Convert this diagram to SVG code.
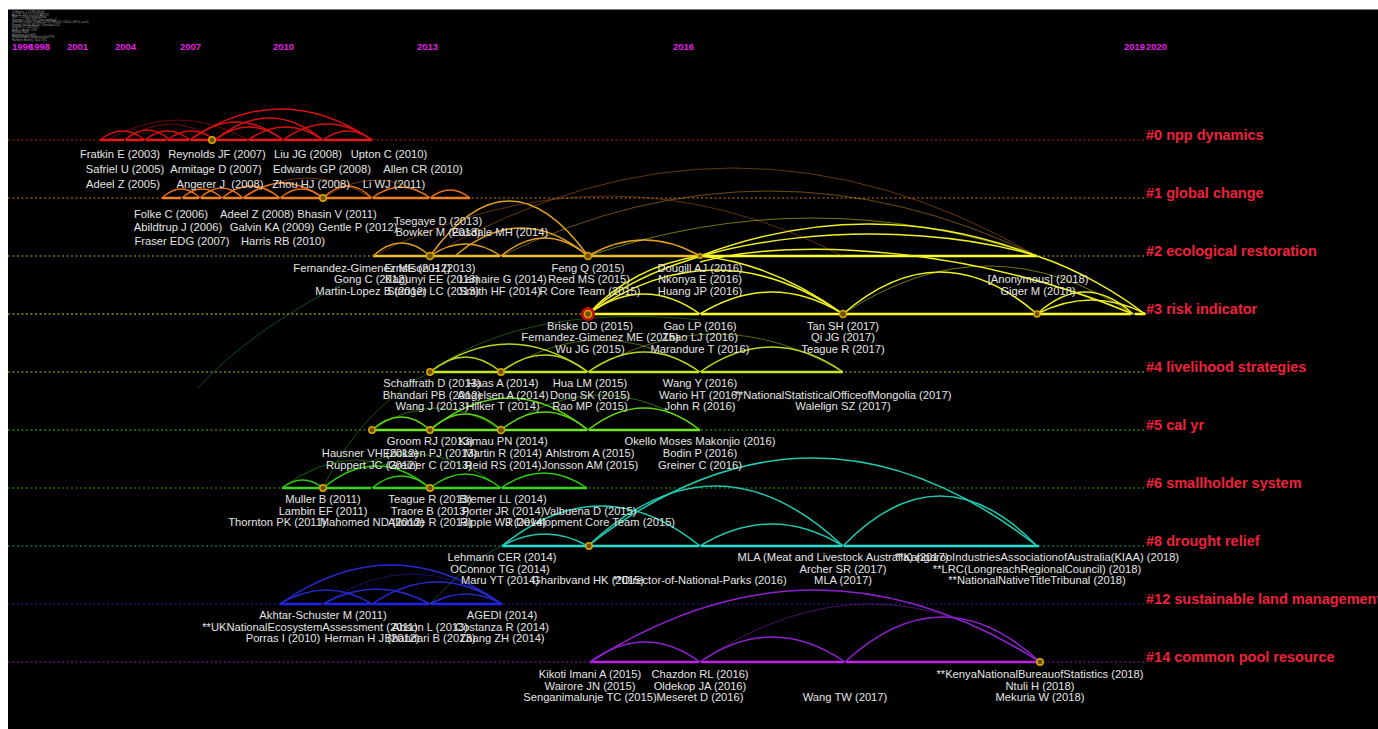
<svg xmlns="http://www.w3.org/2000/svg" width="1378" height="729" viewBox="0 0 1378 729">
<style>
.lb{font-family:"Liberation Sans",Arial,sans-serif;font-size:11.2px;fill:#e4e4e4;text-anchor:middle;white-space:pre}
.cl{font-family:"Liberation Sans",Arial,sans-serif;font-size:14.5px;font-weight:bold;fill:#f0203c}
.yr{font-family:"Liberation Sans",Arial,sans-serif;font-size:9.5px;font-weight:bold;fill:#e020e0}
.hd{font-family:"Liberation Sans",Arial,sans-serif;font-size:2.6px;fill:#a0a0a0}
.dot{stroke-width:1;stroke-dasharray:2 2.5;fill:none}
.sol{stroke-width:2.6;fill:none}
.a{fill:none;stroke-width:1.5}
.t{fill:none;stroke-width:0.9;opacity:0.55}
.nd{fill:#705000;stroke:#d8a800;stroke-width:1.5}
</style>
<rect x="0" y="0" width="1378" height="729" fill="#ffffff"/>
<rect x="8" y="9.5" width="1370" height="720" fill="#000000"/>
<g id="header">
<text class="hd" x="12" y="13">CiteSpace, v. 5.6.R3 (64-bit)</text>
<text class="hd" x="12" y="15.5">April 20, 2020 10:15:32 AM CST</text>
<text class="hd" x="12" y="18">WoS: C:\Users\citespace\data</text>
<text class="hd" x="12" y="20.5">Timespan: 1996-2020 (Slice Length=1)</text>
<text class="hd" x="12" y="23">Selection Criteria: g-index (k=25), LRF=3.0, L/N=10, LBY=5, e=1.0</text>
<text class="hd" x="12" y="25.5">Network: N=516, E=1467 (Density=0.011)</text>
<text class="hd" x="12" y="28">Largest CC: 418 (81%)</text>
<text class="hd" x="12" y="30.5">Nodes Labeled: 1.0%</text>
<text class="hd" x="12" y="33">Pruning: None</text>
<text class="hd" x="12" y="35.5">Modularity Q=0.6925</text>
<text class="hd" x="12" y="38">Weighted Mean Silhouette S=0.8776</text>
<text class="hd" x="12" y="40.5">Harmonic Mean(Q, S)=0.7741</text>
</g>
<g id="years">
<text class="yr" x="12" y="49.5">1996</text>
<text class="yr" x="29" y="49.5">1998</text>
<text class="yr" x="67" y="49.5">2001</text>
<text class="yr" x="115" y="49.5">2004</text>
<text class="yr" x="180" y="49.5">2007</text>
<text class="yr" x="273" y="49.5">2010</text>
<text class="yr" x="417" y="49.5">2013</text>
<text class="yr" x="673" y="49.5">2016</text>
<text class="yr" x="1124" y="49.5">2019</text>
<text class="yr" x="1146" y="49.5">2020</text>
</g>
<g id="timelines">
<g id="line-0">
<line class="dot" x1="8" y1="140" x2="1145" y2="140" stroke="#c01818"/>
<path class="sol" stroke="#e81818" d="M100 140H124M126 140H144M146 140H166M168 140H189M191 140H214M216 140H247M249 140H282M284 140H322M324 140H372"/>
</g>
<g id="line-1">
<line class="dot" x1="8" y1="198" x2="1145" y2="198" stroke="#d07020"/>
<path class="sol" stroke="#f08020" d="M162 198H181M183 198H199M201 198H221M223 198H242M244 198H279M281 198H322M324 198H371M373 198H429M431 198H470"/>
</g>
<g id="line-2">
<line class="dot" x1="8" y1="256" x2="1145" y2="256" stroke="#c0a020"/>
<path class="sol" stroke="#e8c020" d="M373 256H429M431 256H500M502 256H587M589 256H699"/>
<path class="sol" stroke="#ffff30" d="M701 256H1037"/>
</g>
<g id="line-3">
<line class="dot" x1="8" y1="314" x2="1145" y2="314" stroke="#d8d820"/>
<path class="sol" stroke="#ffff20" d="M588 314H699M701 314H842M844 314H1036M1038 314H1131M1135 314H1145"/>
</g>
<g id="line-4">
<line class="dot" x1="8" y1="372" x2="1145" y2="372" stroke="#a8c818"/>
<path class="sol" stroke="#c8e818" d="M430 372H500M502 372H587M589 372H699M701 372H843"/>
</g>
<g id="line-5">
<line class="dot" x1="8" y1="430" x2="1145" y2="430" stroke="#58b010"/>
<path class="sol" stroke="#70e818" d="M372 430H429M431 430H500M502 430H587M589 430H700"/>
</g>
<g id="line-6">
<line class="dot" x1="8" y1="488" x2="1145" y2="488" stroke="#30a010"/>
<path class="sol" stroke="#38d818" d="M282 488H322M324 488H371M373 488H429M431 488H500M502 488H587"/>
</g>
<g id="line-8">
<line class="dot" x1="8" y1="546" x2="1145" y2="546" stroke="#18a088"/>
<path class="sol" stroke="#20e0d0" d="M502 546H587M589 546H699M701 546H842M844 546H1039"/>
</g>
<g id="line-12">
<line class="dot" x1="8" y1="604" x2="1145" y2="604" stroke="#2020b0"/>
<path class="sol" stroke="#2020f0" d="M280 604H322M324 604H371M373 604H429M431 604H502"/>
</g>
<g id="line-14">
<line class="dot" x1="8" y1="662" x2="1145" y2="662" stroke="#8818b0"/>
<path class="sol" stroke="#c020e8" d="M590 662H699M701 662H844M846 662H1040"/>
</g>
</g>
<g id="connectors">
<g stroke="#d81010">
<path class="a" d="M100 140 Q122.5 122 145 140"/>
<path class="a" d="M125 140 Q147.5 120 170 140"/>
<path class="a" d="M145 140 Q167.5 122 190 140"/>
<path class="a" d="M167 140 Q191 122 215 140"/>
<path class="a" d="M190 140 Q236.5 104 283 140"/>
<path class="a" d="M215 140 Q249 114 283 140"/>
<path class="a" d="M215 140 Q269 96 323 140"/>
<path class="a" d="M248 140 Q285.5 114 323 140"/>
<path class="a" d="M283 140 Q327.5 108 372 140"/>
<path class="a" d="M190 140 Q281 78 372 140"/>
<path class="t" d="M107 140 Q177.5 100 248 140"/>
<path class="a" d="M323 140 Q347.5 122 372 140"/>
<path class="t" d="M125 140 Q170 108 215 140"/>
</g>
<g stroke="#e87018">
<path class="a" d="M162 198 Q181 180 200 198"/>
<path class="a" d="M182 198 Q202 180 222 198"/>
<path class="a" d="M200 198 Q221.5 178 243 198"/>
<path class="a" d="M222 198 Q251 174 280 198"/>
<path class="a" d="M243 198 Q283 168 323 198"/>
<path class="a" d="M280 198 Q301.5 180 323 198"/>
<path class="a" d="M323 198 Q347.5 174 372 198"/>
<path class="a" d="M372 198 Q401 176 430 198"/>
<path class="a" d="M430 198 Q450 182 470 198"/>
<path class="t" d="M243 198 Q307.5 158 372 198"/>
<path class="t" d="M323 198 Q376.5 162 430 198"/>
</g>
<g stroke="#e0a020">
<path class="a" d="M373 256 Q401.5 230 430 256"/>
<path class="a" d="M430 256 Q509 146 588 256"/>
<path class="a" d="M455 256 Q521.5 200 588 256"/>
<path class="a" d="M501 256 Q544.5 220 588 256"/>
<path class="a" d="M588 256 Q644 224 700 256"/>
<path class="a" d="M430 256 Q465.5 232 501 256"/>
<path class="t" d="M430 256 Q733.5 80 1037 256" stroke="#d07018"/>
<path class="t" d="M501 256 Q769 126 1037 256"/>
<path class="t" d="M373 256 Q608 136 843 256" stroke="#c06018"/>
</g>
<g stroke="#f0f020">
<path class="a" stroke-width="2" d="M700 256 Q868.5 192 1037 256"/>
<path class="t" d="M588 256 Q812.5 180 1037 256"/>
<path class="a" d="M588 314 C620 280 660 262 700 256"/>
<path class="a" d="M588 314 C680 230 900 215 1037 256"/>
<path class="a" d="M700 256 C760 262 810 290 843 314"/>
<path class="a" d="M1037 256 C1080 270 1120 295 1145 314"/>
<path class="a" d="M700 262 C800 235 980 250 1133 314"/>
<path class="a" d="M588 314 Q644 274 700 314"/>
<path class="a" d="M588 314 Q715.5 226 843 314"/>
<path class="a" d="M700 314 Q771.5 270 843 314"/>
<path class="a" d="M843 314 Q940 230 1037 314"/>
<path class="a" d="M1037 314 Q1085 270 1133 314"/>
<path class="a" d="M1037 314 Q1091.5 286 1146 314"/>
<path class="t" d="M843 314 Q988 218 1133 314"/>
</g>
<g stroke="#b8d818">
<path class="a" d="M430 372 Q465.5 342 501 372"/>
<path class="a" d="M501 372 Q544.5 338 588 372"/>
<path class="a" d="M588 372 Q644 332 700 372"/>
<path class="a" d="M700 372 Q771.5 322 843 372"/>
<path class="a" d="M430 372 Q509 316 588 372"/>
<path class="t" d="M501 372 Q600.5 308 700 372"/>
<path class="t" d="M588 372 Q715.5 296 843 372"/>
</g>
<g stroke="#60d810">
<path class="a" d="M372 430 Q401 404 430 430"/>
<path class="a" d="M430 430 Q465.5 398 501 430"/>
<path class="a" d="M501 430 Q544.5 394 588 430"/>
<path class="a" d="M588 430 Q644 386 700 430"/>
<path class="a" d="M430 430 Q509 366 588 430"/>
<path class="t" d="M372 430 Q436.5 386 501 430"/>
<path class="t" d="M501 430 Q600.5 360 700 430"/>
</g>
<g stroke="#30c810">
<path class="a" d="M282 488 Q302.5 472 323 488"/>
<path class="a" d="M323 488 Q376.5 444 430 488"/>
<path class="a" d="M372 488 Q401 464 430 488"/>
<path class="a" d="M430 488 Q465.5 460 501 488"/>
<path class="a" d="M501 488 Q544 458 587 488"/>
<path class="t" d="M282 488 Q356 432 430 488"/>
<path class="t" d="M323 488 Q412 420 501 488"/>
</g>
<g stroke="#20c8b0">
<path class="a" d="M502 546 Q545 522 588 546"/>
<path class="a" d="M502 546 Q601 466 700 546"/>
<path class="a" d="M588 546 Q715.5 426 843 546"/>
<path class="a" d="M588 546 Q812.5 370 1037 546"/>
<path class="a" d="M700 546 Q771.5 502 843 546"/>
<path class="a" d="M843 546 Q940 446 1037 546"/>
</g>
<g stroke="#2828d0">
<path class="a" d="M280 604 Q326 576 372 604"/>
<path class="a" d="M323 604 Q376.5 574 430 604"/>
<path class="a" d="M372 604 Q437 560 502 604"/>
<path class="a" d="M280 604 Q391 526 502 604"/>
<path class="t" d="M323 604 Q412.5 544 502 604"/>
<path class="a" d="M430 604 Q466 584 502 604"/>
</g>
<g stroke="#9020d0">
<path class="a" d="M590 662 Q645 622 700 662"/>
<path class="a" d="M700 662 Q772.5 612 845 662"/>
<path class="a" d="M845 662 Q942.5 572 1040 662"/>
<path class="a" d="M590 662 Q815 518 1040 662"/>
<path class="t" d="M700 662 Q870 546 1040 662"/>
</g>
<g>
<path class="t" stroke="#1a9080" d="M198 388 Q250 330 350 280"/>
<path class="t" stroke="#40a020" d="M323 488 Q360 410 430 372"/>
<path class="t" stroke="#40a020" d="M430 372 C500 320 600 310 700 320"/>
<path class="t" stroke="#18a088" d="M430 604 Q470 560 502 546"/>
</g>
</g>
<g id="nodes">
<circle id="n-0-2008" class="nd" cx="212" cy="140" r="3.2" fill="#600000" stroke="#c01010"/>
<circle id="n-1-2011" class="nd" cx="323" cy="198" r="3.2" fill="#600000" stroke="#c01010"/>
<circle id="n-2-2013" class="nd" cx="430" cy="256" r="3.5"/>
<circle id="n-2-2015" class="nd" cx="588" cy="256" r="3.5"/>
<circle id="n-2-2016" class="nd" cx="700" cy="256" r="2.2"/>
<g id="n-3-2015"><circle cx="588" cy="314" r="7" fill="#c01010"/><circle cx="588" cy="314" r="3.5" class="nd" stroke="#f0c000"/></g>
<circle id="n-3-2017" class="nd" cx="843" cy="314" r="3.5"/>
<circle id="n-3-2018" class="nd" cx="1037" cy="314" r="3"/>
<circle id="n-4-2013" class="nd" cx="430" cy="372" r="3.2"/>
<circle id="n-4-2014" class="nd" cx="501" cy="372" r="3.2"/>
<circle id="n-5-2012" class="nd" cx="372" cy="430" r="3.2"/>
<circle id="n-5-2013" class="nd" cx="430" cy="430" r="3.2"/>
<circle id="n-5-2014" class="nd" cx="501" cy="430" r="3.5" fill="#a00000" stroke="#c01010"/>
<circle id="n-6-2011" class="nd" cx="323" cy="488" r="3.2"/>
<circle id="n-6-2013" class="nd" cx="430" cy="488" r="3.2"/>
<circle id="n-8-2015" class="nd" cx="589" cy="546" r="3.2" fill="#e0d000" stroke="#c8c000"/>
<circle id="n-14-2018" class="nd" cx="1040" cy="662" r="3.2"/>
</g>
<g id="cluster-labels">
<text class="cl" x="1146" y="140">#0 npp dynamics</text>
<text class="cl" x="1146" y="198">#1 global change</text>
<text class="cl" x="1146" y="256">#2 ecological restoration</text>
<text class="cl" x="1146" y="314">#3 risk indicator</text>
<text class="cl" x="1146" y="372">#4 livelihood strategies</text>
<text class="cl" x="1146" y="430">#5 cal yr</text>
<text class="cl" x="1146" y="488">#6 smallholder system</text>
<text class="cl" x="1146" y="546">#8 drought relief</text>
<text class="cl" x="1146" y="604">#12 sustainable land management</text>
<text class="cl" x="1146" y="662">#14 common pool resource</text>
</g>
<g id="labels-0">
<text class="lb" x="120" y="158">Fratkin E (2003)</text>
<text class="lb" x="217" y="158">Reynolds JF (2007)</text>
<text class="lb" x="308" y="158">Liu JG (2008)</text>
<text class="lb" x="389" y="158">Upton C (2010)</text>
<text class="lb" x="125" y="173">Safriel U (2005)</text>
<text class="lb" x="216" y="173">Armitage D (2007)</text>
<text class="lb" x="322" y="173">Edwards GP (2008)</text>
<text class="lb" x="423" y="173">Allen CR (2010)</text>
<text class="lb" x="123" y="188">Adeel Z (2005)</text>
<text class="lb" x="220" y="188">Angerer J  (2008)</text>
<text class="lb" x="311" y="188">Zhou HJ (2008)</text>
<text class="lb" x="394" y="188">Li WJ (2011)</text>
</g>
<g id="labels-1">
<text class="lb" x="171" y="218">Folke C (2006)</text>
<text class="lb" x="257" y="218">Adeel Z (2008)</text>
<text class="lb" x="337" y="218">Bhasin V (2011)</text>
<text class="lb" x="178" y="231">Abildtrup J (2006)</text>
<text class="lb" x="272" y="231">Galvin KA (2009)</text>
<text class="lb" x="358" y="231">Gentle P (2012)</text>
<text class="lb" x="182" y="245">Fraser EDG (2007)</text>
<text class="lb" x="283" y="245">Harris RB (2010)</text>
<text class="lb" x="438" y="225">Tsegaye D (2013)</text>
<text class="lb" x="438" y="236">Bowker M (2013)</text>
<text class="lb" x="500" y="236">Easdale MH (2014)</text>
</g>
<g id="labels-2">
<text class="lb" x="372" y="272">Fernandez-Gimenez ME (2012)</text>
<text class="lb" x="430" y="272">Ernstson H (2013)</text>
<text class="lb" x="588" y="272">Feng Q (2015)</text>
<text class="lb" x="700" y="272">Dougill AJ (2016)</text>
<text class="lb" x="371" y="283">Gong C (2012)</text>
<text class="lb" x="432" y="283">Kagunyi EE (2013)</text>
<text class="lb" x="503" y="283">Lemaire G (2014)</text>
<text class="lb" x="589" y="283">Reed MS (2015)</text>
<text class="lb" x="700" y="283">Nkonya E (2016)</text>
<text class="lb" x="1038" y="283">[Anonymous] (2018)</text>
<text class="lb" x="371" y="295">Martin-Lopez B (2012)</text>
<text class="lb" x="433" y="295">Stringer LC (2013)</text>
<text class="lb" x="500" y="295">Smith HF (2014)</text>
<text class="lb" x="590" y="295">R Core Team (2015)</text>
<text class="lb" x="700" y="295">Huang JP (2016)</text>
<text class="lb" x="1038" y="295">Giger M (2018)</text>
</g>
<g id="labels-3">
<text class="lb" x="590" y="330">Briske DD (2015)</text>
<text class="lb" x="700" y="330">Gao LP (2016)</text>
<text class="lb" x="843" y="330">Tan SH (2017)</text>
<text class="lb" x="600" y="341">Fernandez-Gimenez ME (2015)</text>
<text class="lb" x="700" y="341">Zhao LJ (2016)</text>
<text class="lb" x="843" y="341">Qi JG (2017)</text>
<text class="lb" x="590" y="353">Wu JG (2015)</text>
<text class="lb" x="700" y="353">Marandure T (2016)</text>
<text class="lb" x="843" y="353">Teague R (2017)</text>
</g>
<g id="labels-4">
<text class="lb" x="432" y="387">Schaffrath D (2013)</text>
<text class="lb" x="503" y="387">Haas A (2014)</text>
<text class="lb" x="590" y="387">Hua LM (2015)</text>
<text class="lb" x="700" y="387">Wang Y (2016)</text>
<text class="lb" x="432" y="399">Bhandari PB (2012)</text>
<text class="lb" x="503" y="399">Angelsen A (2014)</text>
<text class="lb" x="590" y="399">Dong SK (2015)</text>
<text class="lb" x="700" y="399">Wario HT (2016)</text>
<text class="lb" x="843" y="399">**NationalStatisticalOfficeofMongolia (2017)</text>
<text class="lb" x="432" y="410">Wang J (2013)</text>
<text class="lb" x="503" y="410">Hilker T (2014)</text>
<text class="lb" x="590" y="410">Rao MP (2015)</text>
<text class="lb" x="700" y="410">John R (2016)</text>
<text class="lb" x="843" y="410">Walelign SZ (2017)</text>
</g>
<g id="labels-5">
<text class="lb" x="430" y="445">Groom RJ (2013)</text>
<text class="lb" x="503" y="445">Kamau PN (2014)</text>
<text class="lb" x="700" y="445">Okello Moses Makonjio (2016)</text>
<text class="lb" x="370" y="457">Hausner VH (2012)</text>
<text class="lb" x="430" y="457">Ericksen PJ (2013)</text>
<text class="lb" x="503" y="457">Martin R (2014)</text>
<text class="lb" x="590" y="457">Ahlstrom A (2015)</text>
<text class="lb" x="700" y="457">Bodin P (2016)</text>
<text class="lb" x="372" y="469">Ruppert JC (2012)</text>
<text class="lb" x="430" y="469">Greiner C (2013)</text>
<text class="lb" x="503" y="469">Reid RS (2014)</text>
<text class="lb" x="590" y="469">Jonsson AM (2015)</text>
<text class="lb" x="700" y="469">Greiner C (2016)</text>
</g>
<g id="labels-6">
<text class="lb" x="323" y="503">Muller B (2011)</text>
<text class="lb" x="430" y="503">Teague R (2013)</text>
<text class="lb" x="503" y="503">Bremer LL (2014)</text>
<text class="lb" x="323" y="515">Lambin EF (2011)</text>
<text class="lb" x="430" y="515">Traore B (2013)</text>
<text class="lb" x="503" y="515">Porter JR (2014)</text>
<text class="lb" x="590" y="515">Valbuena D (2015)</text>
<text class="lb" x="277" y="526">Thornton PK (2011)</text>
<text class="lb" x="372" y="526">Mahomed ND (2012)</text>
<text class="lb" x="430" y="526">Allonde R (2013)</text>
<text class="lb" x="503" y="526">Ripple WJ (2014)</text>
<text class="lb" x="590" y="526">R Development Core Team (2015)</text>
</g>
<g id="labels-8">
<text class="lb" x="502" y="561">Lehmann CER (2014)</text>
<text class="lb" x="843" y="561">MLA (Meat and Livestock Australia) (2017)</text>
<text class="lb" x="1037" y="561">**KangarooIndustriesAssociationofAustralia(KIAA) (2018)</text>
<text class="lb" x="500" y="573">OConnor TG (2014)</text>
<text class="lb" x="843" y="573">Archer SR (2017)</text>
<text class="lb" x="1037" y="573">**LRC(LongreachRegionalCouncil) (2018)</text>
<text class="lb" x="500" y="584">Maru YT (2014)</text>
<text class="lb" x="588" y="584">Gharibvand HK (2015)</text>
<text class="lb" x="700" y="584">**Director-of-National-Parks (2016)</text>
<text class="lb" x="843" y="584">MLA (2017)</text>
<text class="lb" x="1037" y="584">**NationalNativeTitleTribunal (2018)</text>
</g>
<g id="labels-12">
<text class="lb" x="323" y="619">Akhtar-Schuster M (2011)</text>
<text class="lb" x="502" y="619">AGEDI (2014)</text>
<text class="lb" x="310" y="631">**UKNationalEcosystemAssessment (2011)</text>
<text class="lb" x="430" y="631">Abson L (2013)</text>
<text class="lb" x="502" y="631">Costanza R (2014)</text>
<text class="lb" x="283" y="642">Porras I (2010)</text>
<text class="lb" x="372" y="642">Herman H J (2012)</text>
<text class="lb" x="430" y="642">Bhandari B (2013)</text>
<text class="lb" x="502" y="642">Zhang ZH (2014)</text>
</g>
<g id="labels-14">
<text class="lb" x="590" y="678">Kikoti Imani A (2015)</text>
<text class="lb" x="700" y="678">Chazdon RL (2016)</text>
<text class="lb" x="1040" y="678">**KenyaNationalBureauofStatistics (2018)</text>
<text class="lb" x="590" y="690">Wairore JN (2015)</text>
<text class="lb" x="700" y="690">Oldekop JA (2016)</text>
<text class="lb" x="1040" y="690">Ntuli H (2018)</text>
<text class="lb" x="590" y="701">Senganimalunje TC (2015)</text>
<text class="lb" x="700" y="701">Meseret D (2016)</text>
<text class="lb" x="845" y="701">Wang TW (2017)</text>
<text class="lb" x="1040" y="701">Mekuria W (2018)</text>
</g>
</svg>
